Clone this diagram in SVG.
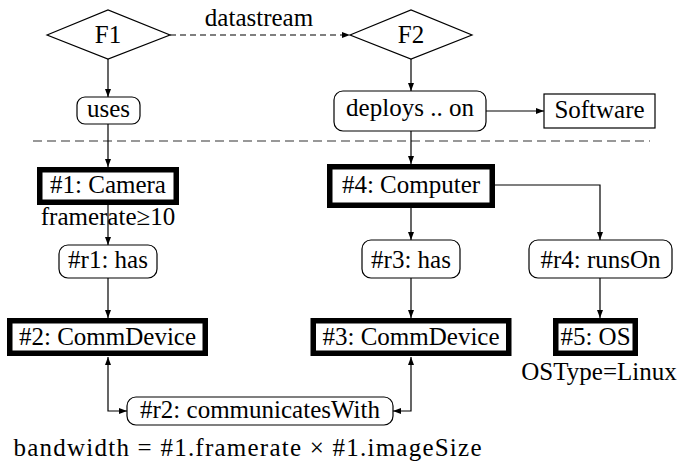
<svg xmlns="http://www.w3.org/2000/svg" width="680" height="463" viewBox="0 0 680 463" font-family="'Liberation Serif', 'Times New Roman', 'DejaVu Serif', serif">
<style>
text{font-family:'Liberation Serif','Times New Roman','DejaVu Serif',serif;font-size:25px;fill:#000;text-anchor:middle}
.dia{fill:#fff;stroke:#000;stroke-width:1.2}
.rel{fill:#fff;stroke:#000;stroke-width:1.2}
.ent{fill:#fff;stroke:#000;stroke-width:5.5}
.plain{fill:#fff;stroke:#000;stroke-width:1.2}
.c{fill:none;stroke:#000;stroke-width:1.2}
.sep{fill:none;stroke:#777;stroke-width:1.5;stroke-dasharray:9 5}
</style>
<defs>
<marker id="ah" viewBox="0 0 8 6" refX="8" refY="3" markerWidth="8" markerHeight="6" markerUnits="userSpaceOnUse" orient="auto-start-reverse">
<path d="M0,0 L8,3 L0,6 z" fill="#000"/>
</marker>
</defs>
<line class="sep" x1="33" y1="141" x2="650" y2="141"/>
<g id="connectors">
<line class="c" x1="170" y1="35" x2="350" y2="35" stroke-dasharray="6 4" marker-end="url(#ah)"/>
<line class="c" x1="108" y1="59" x2="108" y2="97" marker-end="url(#ah)"/>
<line class="c" x1="411" y1="59" x2="411" y2="91" marker-end="url(#ah)"/>
<line class="c" x1="486" y1="111" x2="544" y2="111" marker-end="url(#ah)"/>
<line class="c" x1="108" y1="124" x2="108" y2="167" marker-end="url(#ah)"/>
<line class="c" x1="411" y1="131" x2="411" y2="164" marker-end="url(#ah)"/>
<line class="c" x1="108" y1="205" x2="108" y2="245" marker-end="url(#ah)"/>
<line class="c" x1="108" y1="278" x2="108" y2="318" marker-end="url(#ah)"/>
<line class="c" x1="411" y1="208" x2="411" y2="240" marker-end="url(#ah)"/>
<path class="c" d="M495,185 H600 V240" marker-end="url(#ah)"/>
<line class="c" x1="411" y1="278" x2="411" y2="318" marker-end="url(#ah)"/>
<line class="c" x1="600" y1="278" x2="600" y2="318" marker-end="url(#ah)"/>
<path class="c" d="M108,357 V411 H127" marker-start="url(#ah)" marker-end="url(#ah)"/>
<path class="c" d="M411,357 V411 H393" marker-start="url(#ah)" marker-end="url(#ah)"/>
</g>
<g id="F1">
<polygon class="dia" points="47,35 108,10 170,35 108,59"/>
<text x="108" y="43">F1</text>
</g>
<g id="F2">
<polygon class="dia" points="350,35 411,10 472,35 411,59"/>
<text x="411" y="43">F2</text>
</g>
<g id="datastream">
<text x="259" y="26">datastream</text>
</g>
<g id="uses">
<rect class="rel" x="77" y="97" width="63" height="27" rx="8"/>
<text x="108.5" y="117">uses</text>
</g>
<g id="deploys">
<rect class="rel" x="334" y="91" width="152" height="40" rx="9"/>
<text x="410" y="116">deploys .. on</text>
</g>
<g id="software">
<rect class="plain" x="544" y="94" width="111" height="34"/>
<text x="599.5" y="118">Software</text>
</g>
<g id="camera">
<rect class="ent" x="39.75" y="169.75" width="136.5" height="32.5"/>
<text x="108" y="193">#1: Camera</text>
<text x="108" y="225">framerate≥10</text>
</g>
<g id="r1">
<rect class="rel" x="59" y="245" width="98" height="33" rx="9"/>
<text x="108" y="268">#r1: has</text>
</g>
<g id="comm2">
<rect class="ent" x="9.75" y="320.75" width="195.5" height="32.5"/>
<text x="107.5" y="345">#2: CommDevice</text>
</g>
<g id="computer">
<rect class="ent" x="329.75" y="166.75" width="162.5" height="38.5"/>
<text x="411" y="193">#4: Computer</text>
</g>
<g id="r3">
<rect class="rel" x="362" y="240" width="98" height="38" rx="9"/>
<text x="411" y="268">#r3: has</text>
</g>
<g id="r4">
<rect class="rel" x="529" y="240" width="143" height="38" rx="9"/>
<text x="600.5" y="268">#r4: runsOn</text>
</g>
<g id="comm3">
<rect class="ent" x="313.25" y="320.75" width="195.5" height="32.5"/>
<text x="411" y="345">#3: CommDevice</text>
</g>
<g id="os">
<rect class="ent" x="555.75" y="320.75" width="79.5" height="32.5"/>
<text x="595.5" y="345">#5: OS</text>
<text x="599" y="380">OSType=Linux</text>
</g>
<g id="r2">
<rect class="rel" x="127" y="397" width="266" height="28" rx="9"/>
<text x="260" y="418">#r2: communicatesWith</text>
<text x="247.5" y="456" textLength="468" lengthAdjust="spacing">bandwidth = #1.framerate × #1.imageSize</text>
</g>
</svg>
